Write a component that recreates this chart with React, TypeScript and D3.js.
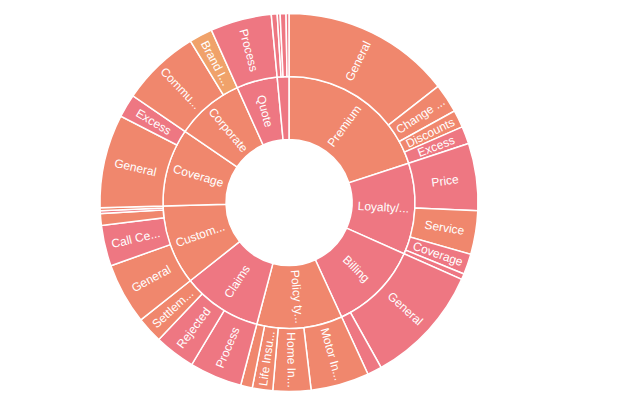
import React, { useEffect, useRef } from "react";
import * as d3 from "d3";

// Inner ring: topics, in drawing order (clockwise from 12 o'clock)
const topics = [
  "Premium",
  "Loyalty/Retention",
  "Billing",
  "Policy type",
  "Claims",
  "Customer Service",
  "Coverage",
  "Corporate",
  "Quote",
  "Other",
];
const topicTones = ["neutral", "negative", "negative", "neutral", "negative", "neutral", "neutral", "neutral", "negative", "negative"];

// Outer ring: sub-topics
const leafTopics = [
  "Premium", "Premium", "Premium", "Premium",
  "Loyalty/Retention", "Loyalty/Retention", "Loyalty/Retention", "Loyalty/Retention",
  "Billing", "Billing",
  "Policy type", "Policy type", "Policy type", "Policy type",
  "Claims", "Claims", "Claims",
  "Customer Service", "Customer Service", "Customer Service", "Customer Service", "Customer Service",
  "Coverage", "Coverage",
  "Corporate", "Corporate",
  "Quote",
  "Other", "Other", "Other", "Other",
];
const leafNames = [
  "General", "Change of Details", "Discounts", "Excess",
  "Price", "Service", "Coverage", "Renewal",
  "General", "Payment",
  "Motor Insurance", "Home Insurance", "Life Insurance", "Travel Insurance",
  "Process", "Rejected", "Settlement",
  "General", "Call Centre", "Staff", "Online", "Complaints",
  "General", "Excess",
  "Communication", "Brand Image",
  "Process",
  "Website", "App", "Email", "Letters",
];
const leafValues = [
  58, 10, 6, 6,
  23, 15, 7, 2,
  41, 5,
  20, 13, 7, 4,
  18, 14, 9,
  21, 14, 4, 1, 1,
  32, 8,
  27, 8,
  21,
  2, 1, 2, 1,
];
const leafTones = [
  "neutral", "neutral", "neutral", "negative",
  "negative", "neutral", "negative", "negative",
  "negative", "negative",
  "neutral", "neutral", "neutral", "neutral",
  "negative", "negative", "neutral",
  "neutral", "negative", "neutral", "negative", "neutral",
  "neutral", "negative",
  "neutral", "positive",
  "negative",
  "negative", "negative", "negative", "negative",
];

interface Node {
  name: string;
  tone?: string;
  value?: number;
  children?: Node[];
}

const WIDTH = 638;
const HEIGHT = 407;

export default function App() {
  const svgRef = useRef<SVGSVGElement>(null);

  useEffect(() => {
    if (!svgRef.current) return;
    const svg = d3.select(svgRef.current);
    svg.selectAll("*").remove();

    const cx = 289;
    const cy = 202.5;
    const ring = 63;

    const rootData: Node = {
      name: "root",
      children: topics.map((t, i) => ({
        name: t,
        tone: topicTones[i],
        children: leafNames
          .map((n, j) => ({ name: n, tone: leafTones[j], value: leafValues[j], topic: leafTopics[j] }))
          .filter((l) => l.topic === t),
      })),
    };

    const root = d3.hierarchy<Node>(rootData).sum((d) => d.value || 0);
    d3.partition<Node>().size([2 * Math.PI, 3])(root);

    const color = d3
      .scaleOrdinal<string, string>()
      .domain(["neutral", "negative", "positive"])
      .range(["#f0876d", "#ee7782", "#f0a26a"]);

    const arc = d3
      .arc<d3.HierarchyRectangularNode<Node>>()
      .startAngle((d) => d.x0)
      .endAngle((d) => d.x1)
      .innerRadius((d) => d.y0 * ring)
      .outerRadius((d) => d.y1 * ring);

    const g = svg.append("g").attr("transform", `translate(${cx},${cy})`);
    const nodes = (root as d3.HierarchyRectangularNode<Node>).descendants().filter((d) => d.depth > 0);

    g.selectAll("path")
      .data(nodes)
      .enter()
      .append("path")
      .attr("d", arc)
      .attr("fill", (d) => color(d.data.tone || "neutral"))
      .attr("stroke", "#fff")
      .attr("stroke-width", 1.5);

    // label truncation, same idea as echarts' ellipsis
    const ctx = document.createElement("canvas").getContext("2d")!;
    const font = "12px Arial, 'Liberation Sans', sans-serif";
    ctx.font = font;
    const maxW = 56;
    const fit = (s: string) => {
      if (ctx.measureText(s).width <= maxW) return s;
      let t = s;
      while (t.length > 0 && ctx.measureText(t + "...").width > maxW) t = t.slice(0, -1);
      return t + "...";
    };

    const labelled = nodes.filter((d) => {
      const r = ((d.y0 + d.y1) / 2) * ring;
      return (d.x1 - d.x0) * r > 13;
    });

    g.selectAll("text")
      .data(labelled)
      .enter()
      .append("text")
      .attr("transform", (d) => {
        const a = (d.x0 + d.x1) / 2;
        const r = ((d.y0 + d.y1) / 2) * ring;
        const deg = (a * 180) / Math.PI;
        const rot = deg < 180 ? deg - 90 : deg - 270;
        return `translate(${r * Math.sin(a)},${-r * Math.cos(a)}) rotate(${rot})`;
      })
      .attr("text-anchor", "middle")
      .attr("dominant-baseline", "central")
      .attr("fill", "#fff")
      .style("font", font)
      .text((d) => fit(d.data.name));
  }, []);

  return (
    <svg
      ref={svgRef}
      width={WIDTH}
      height={HEIGHT}
      style={{ position: "absolute", left: 0, top: 0, background: "#fff" }}
    />
  );
}
